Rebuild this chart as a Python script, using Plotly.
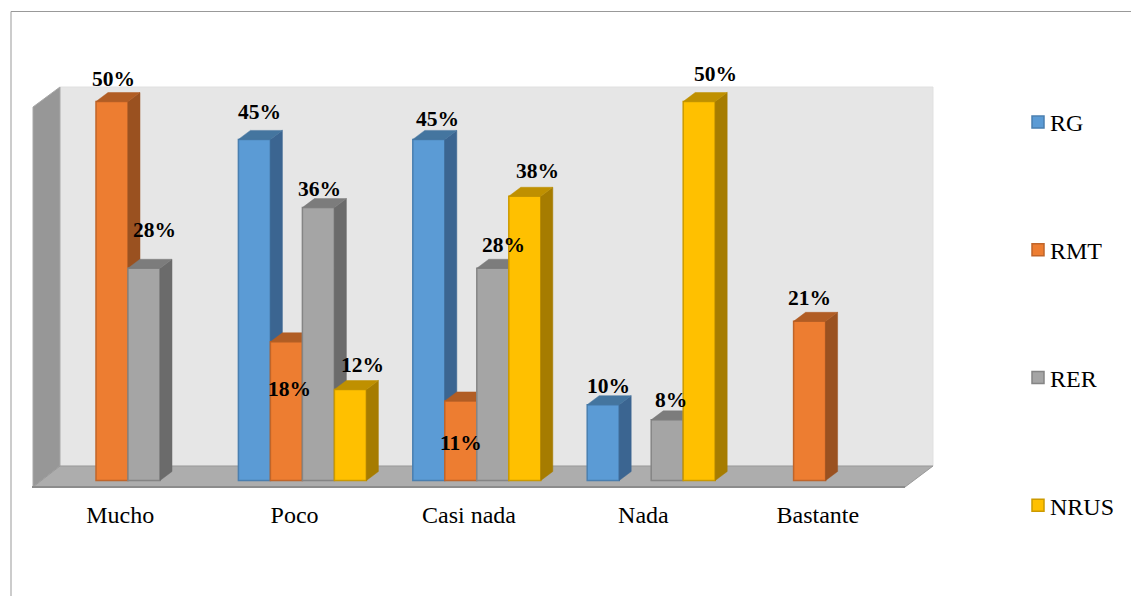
import plotly.graph_objects as go

categories = ["Mucho", "Poco", "Casi nada", "Nada", "Bastante"]
rg = [None, 45, 45, 10, None]
rmt = [50, 18.3, 10.5, None, 21]
rer = [28, 36, 28, 8, None]
nrus = [None, 12, 37.5, 50, None]

series_names = ["RG", "RMT", "RER", "NRUS"]
series_values = [rg, rmt, rer, nrus]

# styles: front, outline, side, top
styles = [
    ("#5B9BD5", "#4A7FB0", "#3B6591", "#44759F"),
    ("#ED7D31", "#C0652A", "#9A5120", "#B15D24"),
    ("#A5A5A5", "#858585", "#6B6B6B", "#7C7C7C"),
    ("#FFC000", "#CC9A00", "#A67C00", "#BF9000"),
]
# label nudges in pixels (x, y), per series and category
label_nudges = [
    [None, (5, 27), (9, 20), (5, 19), None],
    [(1, 23), (3, -47), (0, -42), None, (0, 23)],
    [(10, 38), (1, 19), (11, 23), (4, 20), None],
    [None, (12, 25), (13, 25), (16, 28), None],
]

W, H = 1131, 596
L, R, T, B = 33, 905, 87, 487      # floor front edge and wall top, pixels
Y0 = 480.5                          # baseline of the bars, pixels
PX_PER_PCT = 7.58
PX_PER_CAT = (R - L) / len(categories)
BAR_W = 32 / PX_PER_CAT
GROUP_SHIFT = 7.8 / PX_PER_CAT
DX = 12 / PX_PER_CAT
DY = 9 / PX_PER_PCT
FONT = "Liberation Serif, Times New Roman, serif"

xrange_ = [-0.5, len(categories) - 0.5]
yrange_ = [-(B - Y0) / PX_PER_PCT, (Y0 - T) / PX_PER_PCT]


def px(p):
    return (p - L) / (R - L)


def py(p):
    return 1 - (p - T) / (B - T)


def poly(points):
    return "M " + " L ".join(f"{px(a):.5f},{py(b):.5f}" for a, b in points) + " Z"


fig = go.Figure()
annotations = []

for s, (name, vals, st, nudges) in enumerate(zip(series_names, series_values, styles, label_nudges)):
    suffix = "" if s == 0 else str(s + 1)
    xa, ya = "x" + suffix, "y" + suffix
    offset = (s - 1.5) * BAR_W
    centers = [i + GROUP_SHIFT + offset for i in range(len(categories))]
    fig.add_trace(go.Bar(
        x=centers, y=vals, width=BAR_W, name=name, xaxis=xa, yaxis=ya,
        marker=dict(color=st[0], line=dict(color=st[1], width=1.5)),
        legendgroup=name,
    ))
    side_x, side_y, top_x, top_y = [], [], [], []
    for c, v, n in zip(centers, vals, nudges):
        if v is None:
            continue
        x0, x1 = c - BAR_W / 2, c + BAR_W / 2
        side_x += [x1, x1 + DX, x1 + DX, x1, x1, None]
        side_y += [0, DY, v + DY, v, 0, None]
        top_x += [x0, x1, x1 + DX, x0 + DX, x0, None]
        top_y += [v, v, v + DY, v + DY, v, None]
        annotations.append(dict(
            x=c, y=v, xref=xa, yref=ya, text=f"{int(v + 0.5)}%", showarrow=False,
            xshift=n[0], yshift=n[1], xanchor="center", yanchor="middle",
            font=dict(family=FONT, size=21.5, color="#000000", weight="bold"),
        ))
    for fx, fy, col in ((side_x, side_y, st[2]), (top_x, top_y, st[3])):
        fig.add_trace(go.Scatter(
            x=fx, y=fy, mode="lines", fill="toself", fillcolor=col,
            line=dict(color=col, width=0.5), xaxis=xa, yaxis=ya,
            showlegend=False, hoverinfo="skip", legendgroup=name,
        ))

layout_axes = {}
for s in range(1, len(series_names)):
    layout_axes[f"xaxis{s + 1}"] = dict(range=xrange_, overlaying="x", visible=False)
    layout_axes[f"yaxis{s + 1}"] = dict(range=yrange_, overlaying="y", visible=False)

shapes = [
    dict(type="path", path=poly([(60, 87), (933, 87), (933, 466), (60, 466)]),
         xref="paper", yref="paper", fillcolor="#E6E6E6", line=dict(color="#E0E0E0", width=1), layer="below"),
    dict(type="path", path=poly([(33, 107), (60, 87), (60, 466), (33, 487)]),
         xref="paper", yref="paper", fillcolor="#979797", line=dict(color="#A8A8A8", width=1), layer="below"),
    dict(type="path", path=poly([(33, 487), (60, 466), (933, 466), (905, 487)]),
         xref="paper", yref="paper", fillcolor="#ADADAD", line=dict(color="#999999", width=1), layer="below"),
    dict(type="line", x0=px(32), x1=px(905), y0=py(487), y1=py(487),
         xref="paper", yref="paper", line=dict(color="#8C8C8C", width=2), layer="below"),
    dict(type="line", x0=px(11), x1=px(1131), y0=py(11.5), y1=py(11.5),
         xref="paper", yref="paper", line=dict(color="#999999", width=1), layer="below"),
    dict(type="line", x0=px(11), x1=px(11), y0=py(11.5), y1=py(596),
         xref="paper", yref="paper", line=dict(color="#999999", width=1), layer="below"),
]

fig.update_layout(
    width=W, height=H, margin=dict(l=L, r=W - R, t=T, b=H - B, autoexpand=False),
    paper_bgcolor="#FFFFFF", plot_bgcolor="rgba(0,0,0,0)",
    barmode="overlay", shapes=shapes, annotations=annotations,
    font=dict(family=FONT, size=24, color="#000000"),
    xaxis=dict(range=xrange_, tickmode="array", tickvals=list(range(len(categories))),
               ticktext=categories, ticks="outside", ticklen=6, tickcolor="rgba(0,0,0,0)",
               showgrid=False, zeroline=False, showline=False,
               tickfont=dict(family=FONT, size=24, color="#000000")),
    yaxis=dict(range=yrange_, visible=False),
    legend=dict(x=px(1018), xanchor="left", y=py(100), yanchor="top", tracegroupgap=93.5,
                maxheight=560,
                bgcolor="rgba(0,0,0,0)", font=dict(family=FONT, size=24, color="#000000")),
    **layout_axes,
)

fig.write_html(
    "out.html",
    config=dict(displayModeBar=False),
    post_script=(
        "document.body.style.margin='0';"
        "document.querySelectorAll('.legendtext').forEach(function(t){t.setAttribute('x','32');});"
    ),
)
